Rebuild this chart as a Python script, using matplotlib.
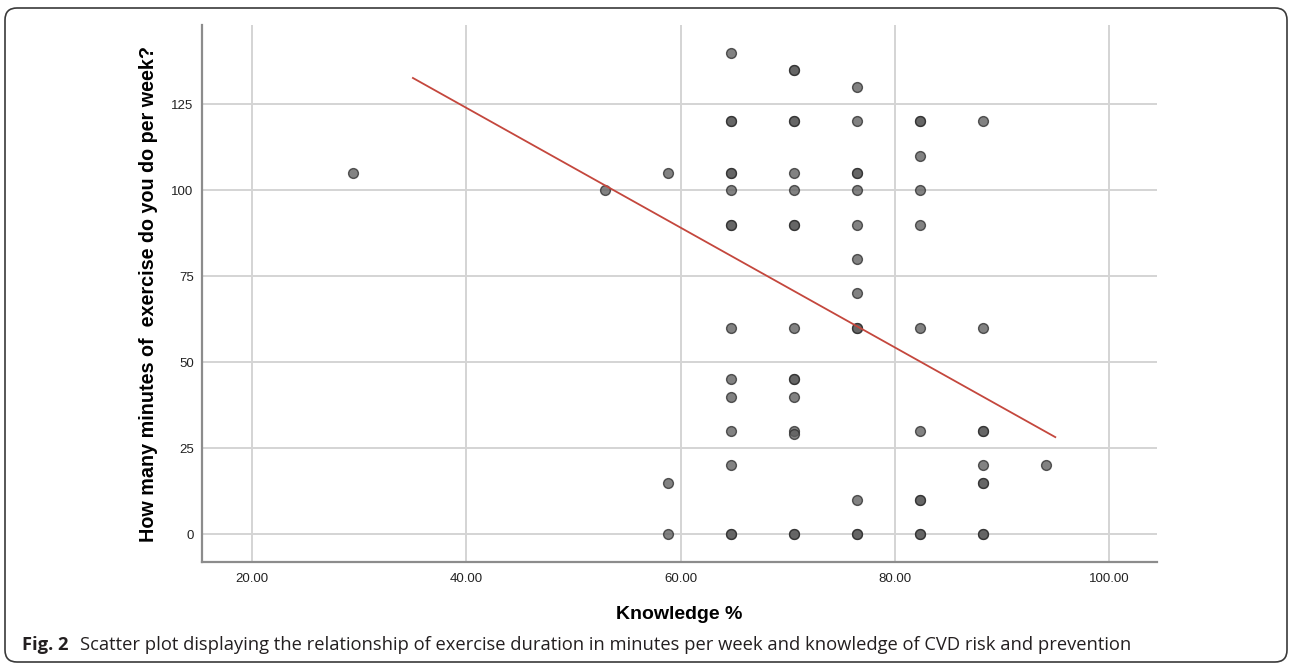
import matplotlib
matplotlib.use("Agg")
import matplotlib.pyplot as plt
from matplotlib.patches import FancyBboxPatch

# ---- data ----
knowledge = (
    [29.41]
    + [52.94]
    + [58.82] * 3
    + [64.71] * 15
    + [70.59] * 16
    + [76.47] * 13
    + [82.35] * 11
    + [88.24] * 9
    + [94.12]
)
minutes = (
    [105]
    + [100]
    + [105, 15, 0]
    + [140, 120, 120, 105, 105, 100, 90, 90, 60, 45, 40, 30, 20, 0, 0]
    + [135, 135, 120, 120, 105, 100, 90, 90, 60, 45, 45, 40, 30, 29, 0, 0]
    + [130, 120, 105, 105, 100, 90, 80, 70, 60, 60, 10, 0, 0]
    + [120, 120, 110, 100, 90, 60, 30, 10, 10, 0, 0]
    + [120, 60, 30, 30, 20, 15, 15, 0, 0]
    + [20]
)
fit_x = [35.0, 95.0]
fit_y = [132.6, 28.2]
x_ticks = [20, 40, 60, 80, 100]
x_tick_labels = ["20.00", "40.00", "60.00", "80.00", "100.00"]
y_ticks = [0, 25, 50, 75, 100, 125]

xlabel = "Knowledge %"
ylabel = "How many minutes of  exercise do you do per week?"
cap_bold = "Fig. 2"
cap_text = "Scatter plot displaying the relationship of exercise duration in minutes per week and knowledge of CVD risk and prevention"

# ---- figure ----
fig = plt.figure(figsize=(12.9, 6.64), dpi=100)
ax = fig.add_axes([202 / 1290, 1 - 562 / 664, (1157 - 202) / 1290, (562 - 25) / 664])

ax.set_xlim(15.3, 104.5)
ax.set_ylim(-8.1, 148)

ax.set_xticks(x_ticks)
ax.set_xticklabels(x_tick_labels)
ax.set_yticks(y_ticks)

ax.grid(True, color="#d4d4d4", lw=1.4, zorder=0)
ax.set_axisbelow(True)

for s in ["top", "right"]:
    ax.spines[s].set_visible(False)
for s in ["left", "bottom"]:
    ax.spines[s].set_color("#8c8c8c")
    ax.spines[s].set_linewidth(1.6)

ax.tick_params(length=0, labelsize=9.5, colors="#222222")
ax.tick_params(axis="x", pad=8)
ax.tick_params(axis="y", pad=6)
for lab in ax.get_xticklabels() + ax.get_yticklabels():
    lab.set_family("Liberation Sans")

ax.scatter(knowledge, minutes, s=50, facecolor="#5f5f5f", edgecolor="#2e2e2e",
           linewidth=1.0, alpha=0.78, zorder=3)
ax.plot(fit_x, fit_y, color="#c4473d", lw=1.3, zorder=4)

ax.set_xlabel(xlabel, fontsize=14, fontweight="bold", family="Liberation Sans", labelpad=15)
ax.set_ylabel(ylabel, fontsize=14.2, fontweight="bold", family="Liberation Sans", labelpad=10)

# caption
t1 = fig.text(22 / 1290, 1 - 645 / 664, cap_bold, fontsize=13.25, fontweight="bold",
              family="Open Sans", color="#231f20", va="center", ha="left")
fig.canvas.draw()
ax.annotate(cap_text, xy=(1, 0.5), xycoords=t1, xytext=(8, 0), textcoords="offset points",
            fontsize=13.25, family="Open Sans", color="#231f20", va="center", ha="left",
            annotation_clip=False)

# rounded frame
box = FancyBboxPatch((0.05, 0.02), 12.82, 6.54, boxstyle="round,pad=0,rounding_size=0.12",
                     transform=fig.dpi_scale_trans, fill=False, ec="#3a3a3a", lw=1.2,
                     clip_on=False)
fig.add_artist(box)

fig.savefig("out.png", dpi=100)
